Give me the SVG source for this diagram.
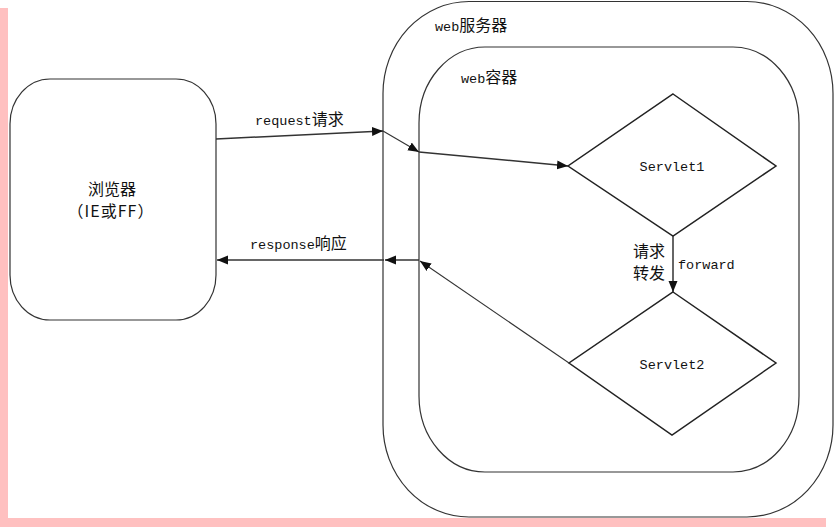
<svg xmlns="http://www.w3.org/2000/svg" width="835" height="527" viewBox="0 0 835 527">
  <style>
    .box { fill: none; stroke: #333; stroke-width: 1.2; }
    .dia { fill: none; stroke: #222; stroke-width: 1.5; }
    .conn { fill: none; stroke: #333; stroke-width: 1.5; }
    .thin { fill: none; stroke: #333; stroke-width: 1.1; }
    .lat { font-family: "Liberation Mono", "Noto Sans CJK SC", monospace; font-size: 13.5px; fill: #111; }
    .cjk { font-family: "Noto Sans CJK SC", sans-serif; font-size: 16px; fill: #111; }
  </style>
  <defs>
    <marker id="arr" markerUnits="userSpaceOnUse" markerWidth="12" markerHeight="10" refX="11" refY="4.5" orient="auto">
      <path d="M0,0 L11,4.5 L0,9 z" fill="#111"/>
    </marker>
  </defs>
  <rect width="835" height="527" fill="#fff"/>
  <rect x="0" y="8" width="8" height="519" fill="#FFC0C0"/>
  <rect x="0" y="518" width="826" height="9" fill="#FFC0C0"/>

  <g id="web-server">
    <rect class="box" x="383" y="1.5" width="450" height="515.5" rx="86" ry="92"/>
    <text class="lat" x="435" y="31">web<tspan font-family="Noto Sans CJK SC, sans-serif" font-size="16">服务器</tspan></text>
  </g>
  <g id="web-container">
    <rect class="box" x="419" y="47" width="380" height="425" rx="66" ry="76"/>
    <text class="lat" x="461" y="83">web<tspan font-family="Noto Sans CJK SC, sans-serif" font-size="16">容器</tspan></text>
  </g>
  <g id="browser">
    <rect class="box" x="10" y="79" width="206" height="241" rx="40" ry="45"/>
    <text class="cjk" x="112" y="195" text-anchor="middle" font-size="15.5">浏览器</text>
    <text class="cjk" x="111" y="217" text-anchor="middle" font-size="13.5" letter-spacing="1">（IE或FF）</text>
  </g>
  <g id="servlet1">
    <polygon class="dia" points="673,94 776,166 673,236 568,166"/>
    <text class="lat" x="672" y="171" text-anchor="middle">Servlet1</text>
  </g>
  <g id="servlet2">
    <polygon class="dia" points="673,292 776,363 672,435 569,363"/>
    <text class="lat" x="672" y="369" text-anchor="middle">Servlet2</text>
  </g>

  <g id="connectors">
    <line class="conn" x1="216" y1="139" x2="383" y2="131" marker-end="url(#arr)"/>
    <line class="thin" x1="383" y1="131" x2="419" y2="152" marker-end="url(#arr)"/>
    <line class="conn" x1="419" y1="152" x2="568" y2="166" marker-end="url(#arr)"/>
    <line class="conn" x1="673" y1="236" x2="673" y2="292" marker-end="url(#arr)"/>
    <line class="thin" x1="569" y1="363" x2="420" y2="261" marker-end="url(#arr)"/>
    <line class="conn" x1="419" y1="260" x2="385" y2="260" marker-end="url(#arr)"/>
    <line class="conn" x1="384" y1="260" x2="217" y2="260" marker-end="url(#arr)"/>
    <text class="lat" x="255" y="125">request<tspan font-family="Noto Sans CJK SC, sans-serif" font-size="16">请求</tspan></text>
    <text class="lat" x="250" y="249">response<tspan font-family="Noto Sans CJK SC, sans-serif" font-size="16">响应</tspan></text>
    <text class="cjk" x="633" y="257" font-size="14.5">请求</text>
    <text class="cjk" x="633" y="279" font-size="14.5">转发</text>
    <text class="lat" x="678" y="269" font-size="13">forward</text>
  </g>
</svg>
